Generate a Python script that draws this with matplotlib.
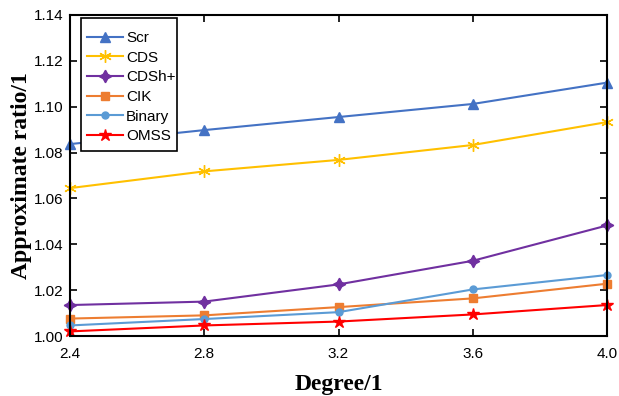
import matplotlib
matplotlib.use("Agg")
import matplotlib.pyplot as plt
from matplotlib.patches import Rectangle

degrees = [2.4, 2.8, 3.2, 3.6, 4.0]
scr = [1.0837, 1.0898, 1.0955, 1.1012, 1.1105]
cds = [1.0645, 1.0718, 1.0768, 1.0833, 1.0933]
cdsh = [1.0135, 1.0150, 1.0225, 1.0328, 1.0482]
cik = [1.0076, 1.0090, 1.0126, 1.0164, 1.0228]
binary = [1.0046, 1.0074, 1.0104, 1.0203, 1.0266]
omss = [1.0020, 1.0046, 1.0063, 1.0094, 1.0135]
yticks = [1.00, 1.02, 1.04, 1.06, 1.08, 1.10, 1.12, 1.14]

plt.rcParams['font.family'] = ['Liberation Sans', 'DejaVu Sans']
fig = plt.figure(figsize=(6.19, 3.96), dpi=100)
ax = fig.add_axes([70/619, 1-336/396, (607-70)/619, (336-15)/396])

series = [
    ("Scr", scr, "#4472C4", "^", 7),
    ("CDS", cds, "#FFC000", (6, 2, 0), 9),
    ("CDSh+", cdsh, "#7030A0", (4, 1, 0), 9),
    ("CIK", cik, "#ED7D31", "s", 5.5),
    ("Binary", binary, "#5B9BD5", "o", 5),
    ("OMSS", omss, "#FF0000", "*", 9),
]
for name, vals, c, m, ms in series:
    ax.plot(degrees, vals, color=c, marker=m, markersize=ms, lw=1.5,
            label=name, clip_on=False)

ax.set_xlim(2.4, 4.0)
ax.set_ylim(1.00, 1.14)
ax.set_xticks(degrees)
ax.set_xticklabels([f"{d:.1f}" for d in degrees])
ax.set_yticks(yticks)
ax.set_yticklabels([f"{v:.2f}" for v in yticks])
ax.tick_params(direction='in', top=True, right=True, length=5, width=1.2,
               labelsize=11, colors='black')
ax.tick_params(axis='x', pad=8)
ax.tick_params(axis='y', pad=5)
for sp in ax.spines.values():
    sp.set_linewidth(1.5)

ax.set_xlabel("Degree/1", fontfamily='Liberation Serif', fontweight='bold',
              fontsize=17, labelpad=9)
ax.set_ylabel("Approximate ratio/1", fontfamily='Liberation Serif', fontweight='bold',
              fontsize=17, labelpad=1)

# legend frame (drawn separately to match the reference's padding)
W, H = 537, 321
frame = Rectangle(((81-70)/W, 1-(151-15)/H), (177-81)/W, (151-18)/H,
                  transform=ax.transAxes, facecolor='white', edgecolor='black',
                  lw=1.2, zorder=4, clip_on=False)
ax.add_patch(frame)
leg = ax.legend(loc='upper left', fontsize=11, frameon=False,
                handlelength=2.35, handletextpad=0.2,
                labelspacing=0.37, borderpad=0,
                bbox_to_anchor=((87-70)/W, 1-(31-15)/H), borderaxespad=0)
leg.set_zorder(5)

fig.savefig("out.png", dpi=100)
